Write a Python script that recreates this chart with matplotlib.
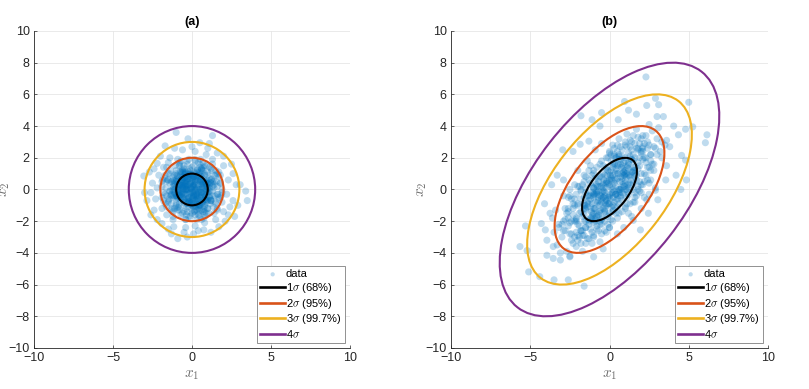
import numpy as np
import matplotlib.pyplot as plt
from matplotlib.patches import Ellipse

plt.rcParams['font.family'] = ['Liberation Sans', 'DejaVu Sans']
plt.rcParams['mathtext.fontset'] = 'cm'

# ---- data ----
# panel (a): isotropic cloud
xa = [-1.0, -0.25, 1.3, -1.7, 0.5, 3.4, 3.5, 3.05, -3.05, -2.5,
      -0.9, 0.1, 0.75, 2.7, 2.4, -2.4, -2.85, -1.9, 1.6, -2.2,
      2.6, 2.6, -1.15, 1.7,
      -2.1, -2.6, -2.3, -1.8, -1.4, -0.6, 0.2, 0.9, 1.3, 2.0,
      2.3, 2.2, 2.0, 1.5, 0.8, 0.2, -0.4, -1.2, -1.9, -2.2,
      -2.7, -2.0, -1.1, 0.0, 1.0, 2.0, 2.8, 2.9, 2.1, 1.2,
      -0.5, -1.5, -2.6, -3.0, -1.6, 1.8, 1.9, -0.9, 0.6, -1.9,
      2.5, -2.4, 1.1, -0.3, 0.4, -1.3, 2.3, -2.2, 1.6, -1.7,
      0.1, -0.3, 0.6, -0.8, 0.4, -0.5, 1.1, -1.2, 0.2, 0.9,
      -0.1, -0.9, 0.7, -0.4, 0.3, -0.6, 1.3, -1.3, 0.0, 0.5,
      -0.2, 0.8, -1.0, 1.4, -1.5, 0.2, -0.7, 1.0, -0.3, 0.4,
      -1.1, 1.2, -0.8, 0.9, -1.6, 0.1, 0.6, -0.4, 1.5, -0.9,
      0.3, -0.2, 0.7, -1.4, 1.6, -0.5, 0.0, 0.5, -1.0, 1.1,
      -0.6, 0.8, -1.3, 1.3, -0.1, 0.4, -1.7, 1.7, -0.7, 0.2,
      0.9, -1.2, 1.4, -0.3, 0.6, -0.9, 0.0, 0.3, -0.5, 1.0,
      -1.5, 1.2, -0.2, 0.5, -0.8, 0.7, -1.1, 1.5, -0.4, 0.1,
      0.8, -1.4, 0.2, -0.6, 1.1, -0.1, 0.4, -1.0, 0.9, -0.3,
      1.3, -1.6, 1.6, -1.2, 0.6, -0.7, 0.0, -0.2, 0.3, -0.4,
      0.5, -0.5, 0.2, -0.1, 0.4, -0.3, 0.1, -0.8, 0.7, -0.6,
      1.0, -1.0, 0.3, -0.2, 0.6, -1.2, 1.2, 0.0, -0.7, 0.8,
      1.8, -1.8, 0.2, -0.4, 1.9, -1.9, 1.4, -1.5, 1.7, -1.3]
ya = [3.6, 3.2, 3.4, 2.75, 2.95, -0.1, -0.7, 0.3, 0.85, 0.4,
      -3.1, -2.8, -2.55, -1.7, -1.1, -1.3, -0.7, -2.15, 2.3, 1.65,
      1.0, -0.7, -2.35, -2.35,
      0.9, -0.2, -0.6, 1.4, 2.0, 2.5, 2.4, 2.2, 1.9, 1.5,
      0.6, -0.3, -1.4, -1.9, -2.1, -2.3, -2.4, -1.9, -1.2, 0.1,
      1.1, 2.1, 2.6, 2.7, 2.6, 2.1, 0.3, -1.0, -2.0, -2.7,
      -2.7, -2.5, -1.6, -0.2, -1.6, 0.9, -0.8, 1.9, -1.9, 0.5,
      1.6, 1.3, 2.9, -3.0, -2.6, -2.8, -1.6, -1.9, -1.3, -0.3,
      0.2, 0.5, -0.2, -0.4, 0.9, -1.0, 0.3, 0.2, -0.7, -0.8,
      1.2, 0.8, 0.5, -0.3, 0.1, 0.1, -0.4, -0.9, -1.3, 1.4,
      -0.1, 1.0, 1.2, 0.9, 0.6, 0.6, -0.7, -1.2, 1.6, -1.5,
      -0.2, 1.3, 1.5, 0.0, -0.4, -0.4, 0.3, 0.8, -0.9, -1.3,
      1.1, -0.8, -0.5, 1.0, 0.2, 0.4, 0.9, -1.0, -0.6, 0.7,
      -1.5, -1.6, 0.5, -0.1, -1.7, 1.7, 0.9, -0.5, 1.1, -1.1,
      1.5, -1.4, 0.5, 0.2, 0.8, -0.1, -0.2, -0.3, 1.3, 0.9,
      -0.8, -0.7, 0.7, 0.0, 0.3, 1.2, 0.9, 1.2, -1.2, 1.5,
      -0.3, -0.1, 0.3, -0.5, -0.5, 0.4, -0.6, 0.5, 0.4, -1.4,
      1.6, 1.4, -1.2, -1.7, -1.3, 1.8, 0.0, -0.5, 0.6, 0.0,
      0.5, -0.2, -0.1, 0.1, 0.3, -0.6, 0.8, -0.9, -0.9, 0.6,
      0.1, -1.0, -0.9, 1.0, 1.0, 0.0, 0.4, -1.0, 0.3, -1.1,
      0.4, -0.7, 1.9, -1.9, -0.2, 0.2, -1.5, 1.7, 1.1, -1.2]
# dense core of panel (a)
xa_core = [0.15, -0.35, 0.55, -0.75, 0.95, -1.15, 0.25, -0.45, 0.65, -0.85,
           1.05, -0.05, 0.35, -0.55, 0.75, -0.95, 1.25, -1.25, 0.05, -0.15,
           -0.25, 0.45, -0.65, 0.85, -1.05, 0.15, -0.35, 0.55, -0.75, 0.95,
           -0.15, 0.35, -0.55, 1.15, -1.35, 0.25, -0.45, 0.65, -0.85, 0.05,
           0.6, -0.2, 0.0, 0.9, -1.1, 0.4, -0.6, 1.3, -0.9, 0.1,
           -0.3, 0.7, -0.5, 1.0, -1.2, 0.2, -0.8, 0.5, -0.1, 1.1,
           -0.7, 0.3, -1.4, 0.8, -0.4, 0.0, 1.2, -1.0, 0.6, -0.2,
           0.4, -0.6, 0.9, -0.9, 0.1, -0.3, 1.4, -1.3, 0.7, -0.5,
           0.3, -0.1, 0.8, -0.6, 0.0, 1.0, -1.0, 0.5, -0.4, 0.2,
           -0.8, 1.2, -0.2, 0.6, -1.1, 0.4, -0.5, 0.9, -0.3, 0.1,
           -0.05, 0.25, -0.45, 0.65, -0.65, 0.45, -0.25, 0.05, 0.85, -0.85,
           1.1, -1.1, 0.35, -0.35, 0.15, -0.15, 0.55, -0.55, 0.75, -0.75,
           0.12, -0.42, 0.72, -0.92, 0.32, -0.12, 0.52, -0.62, 0.92, -0.32,
           0.02, -0.72, 0.42, -0.22, 0.82, -0.52, 0.22, -1.02, 0.62, -0.02,
           1.02, -0.82, 0.12, -0.42, 0.72, -0.62, 0.32, -0.12, 0.52, -0.92,
           -0.28, 0.38, -0.58, 0.68, -0.08, 0.18, -0.78, 0.88, -0.38, 0.48,
           0.08, -0.48, 0.58, -0.68, 0.28, -0.18, 0.98, -0.88, 0.78, -0.98,
           0.18, -0.28, 0.38, -0.38, 0.48, -0.58, 0.68, -0.08, 0.08, -0.78,
           -0.62, 0.62, -0.22, 0.22, -0.82, 0.82, -0.02, 0.02, -0.42, 0.42,
           0.32, -0.32, 1.12, -1.12, 0.52, -0.52, 0.12, -0.12, 0.72, -0.72,
           -0.18, 0.58, -0.88, 0.28, -0.48, 0.98, -0.68, 0.08, -0.38, 0.88,
           0.44, -0.44, 0.64, -0.64, 0.24, -0.24, 0.84, -0.84, 0.04, -0.04]
ya_core = [0.45, -0.25, 0.85, 0.15, -0.65, 0.35, -1.05, 0.95, -0.35, 0.55,
           -0.15, -0.85, 1.25, 0.05, -1.25, -0.45, 0.65, -0.05, 0.25, -0.75,
           1.15, -0.95, 0.75, 0.35, -0.25, -1.35, 0.05, 0.55, -0.55, -0.15,
           0.95, -0.75, 0.25, 0.45, -0.35, -0.65, 1.05, 0.15, -1.15, 0.65,
           -0.4, 0.8, -0.6, 0.2, 0.0, -1.2, 1.1, 0.5, -0.2, 0.3,
           -0.9, 1.4, -0.3, -0.7, 0.6, 1.0, -0.1, -1.0, 0.7, 0.1,
           -0.5, -1.3, 0.4, 0.9, 0.2, -0.8, -0.6, 0.6, 1.2, 0.0,
           -1.1, 1.3, -0.2, 0.3, -0.4, 0.8, 0.1, -0.3, -1.4, 0.5,
           -0.6, 0.9, -1.0, -0.2, 0.5, 0.4, -0.4, -1.3, 1.1, 0.0,
           0.8, -0.7, -1.1, 1.3, 0.2, -0.2, 0.7, -0.5, 0.3, -0.9,
           0.05, -0.35, 0.65, -0.85, 0.25, 1.05, -0.55, -0.15, 0.45, -0.05,
           -0.45, 0.55, -0.95, 0.85, 0.15, -0.25, 0.35, -0.65, 0.05, 1.15,
           -0.22, 0.42, 0.12, -0.52, 0.72, -0.92, -0.32, 0.62, 0.22, 0.02,
           0.92, -0.12, -0.72, 0.32, -0.42, -0.62, 0.52, 0.12, -0.82, -0.42,
           -0.22, 0.22, 0.82, -0.02, 0.62, -0.32, -0.52, 0.42, 0.02, 0.52,
           0.68, -0.38, 0.18, -0.68, -0.18, 1.08, -0.28, -0.08, 0.38, 0.78,
           -1.08, -0.58, 0.48, 0.28, 0.88, -0.78, 0.18, 0.08, -0.28, -0.38,
           0.28, -0.88, -0.08, 0.58, -0.48, 0.78, 0.38, 0.98, -0.58, -0.18,
           0.48, 0.08, -0.68, 0.68, 0.28, -0.62, -0.98, 0.18, 0.98, -1.02,
           0.82, -0.02, -0.12, 0.42, 0.62, -0.82, -0.32, 0.32, -0.72, 0.92,
           -0.52, -0.18, -0.42, 0.02, 0.18, 0.38, 0.62, -0.48, -0.78, 0.52,
           -0.14, 0.24, 0.44, -0.24, -0.44, 0.64, -0.64, -0.34, 0.74, -0.84]
# between the 1 sigma and 2 sigma circles of panel (a)
xa_ring = [1.3, -1.3, 0.0, 0.0, 1.0, -1.0, 1.0, -1.0, 1.6, -1.6,
           0.5, -0.5, 0.5, -0.5, 1.5, -1.5, 1.5, -1.5, 1.8, -1.8,
           0.3, -0.3, 1.2, -1.2, 1.2, -1.2, 0.8, -0.8, 0.8, -0.8,
           1.7, -1.7, 1.7, -1.7, 0.2, -0.2, 0.2, -0.2, 1.4, -1.4,
           1.1, -1.1, 0.6, -0.6, 1.9, -1.9, 0.9, -0.9, 1.35, -1.35,
           0.4, -0.4, 1.55, -1.55, 0.7, -0.7, 1.25, -1.25, 1.05, -1.05,
           1.65, -1.65, 0.15, -0.15, 0.95, -0.95, 1.45, -1.45, 0.55, -0.55,
           1.85, -1.85, 0.35, -0.35, 1.15, -1.15, 0.75, -0.75, 1.6, -1.6]
ya_ring = [0.2, -0.4, 1.4, -1.5, 1.1, -0.9, -1.2, 1.0, -0.3, 0.5,
           1.6, -1.4, -1.7, 1.5, 0.9, -0.7, -0.8, 1.0, 0.4, -0.2,
           -1.9, 1.8, 0.6, -0.5, -0.7, 0.8, 1.5, -1.3, -1.4, 1.6,
           0.8, -0.9, -0.6, 0.7, 1.8, -1.7, -1.6, 1.9, 0.3, -0.1,
           1.4, -1.2, 1.3, 1.2, 0.0, -0.5, -1.5, -1.1, -1.1, 1.2,
           -1.6, -1.9, 0.5, 0.6, 1.7, -1.6, 1.2, -1.3, -1.5, 1.5,
           -0.3, 0.1, -1.4, 1.3, 0.6, 0.9, -0.4, -0.6, 1.9, 1.1,
           -0.4, 0.6, 1.2, -1.6, -0.9, -0.4, -1.8, 1.7, 1.0, -1.1]

# panel (b): correlated cloud
xb = [2.3, 2.9, 5.0, 2.35, 3.1, 0.95, 1.2, 1.7, 0.55, -0.5,
      -1.8, -1.1, -0.6, 3.4, 4.05, 4.8, 5.25, 4.35, 6.15, 6.05,
      3.6, 3.8, 4.55, 4.8, 4.85, 4.5, 4.2, 3.05, 3.55, -2.95,
      -2.3, -1.85, -1.3, -3.65, -2.9, -3.3, -4.1, -3.75, -4.3, -5.3,
      -5.65, -5.2, -5.1, -4.4, -3.5, -2.6, -1.6, -3.95, -3.55, -3.1,
      -3.95, -3.55, -4.05, -2.5, -1.0, -0.4, 1.95, 1.5, 2.45, 2.35,
      2.9,
      0.0, 0.5, -0.5, 1.0, -1.0, 1.5, -1.5, 0.3, -0.3, 2.0,
      -2.0, 0.8, -0.8, 1.2, -1.2, 2.4, -2.4, 0.1, -0.1, 1.8,
      -1.8, 2.8, -2.8, 0.6, -0.6, 1.4, -1.4, 3.0, -3.0, 0.9,
      -0.9, 2.2, -2.2, 1.7, -1.7, 0.2, -0.2, 2.6, -2.6, 1.1,
      -1.1, 0.4, -0.4, 1.9, -1.9, 3.3, -3.2, 0.7, -0.7, 1.3,
      -1.3, 2.1, -2.1, 0.0, 0.0, 1.6, -1.6, 2.7, -2.7, 0.5,
      -0.5, 1.0, -1.0, 2.3, -2.3, 0.8, -0.8, 1.5, -1.5, 3.5,
      -3.4, 0.3, -0.3, 1.2, -1.2, 2.0, -2.0, 0.6, -0.6, 1.8,
      -1.8, 2.9, -2.9, 0.1, -0.1, 1.4, -1.4, 2.5, -2.5, 0.9,
      -0.9, 1.7, -1.7, 3.1, -3.1, 0.4, -0.4, 1.0, -1.0, 2.2,
      -2.2, 0.2, -0.2, 1.6, -1.6, 0.7, -0.7, 2.6, -2.6, 1.3,
      -1.3, 0.0, 0.0, 3.6, -3.6, 1.9, -1.9, 0.5, -0.5, 2.4,
      -2.4, 1.1, -1.1, 3.0, -3.3, 0.8, -0.8, 1.5, -1.5, 2.1,
      -2.1, 0.3, -0.3, 1.2, -1.2, 2.8, -2.8, 0.6, -0.6, 1.7,
      -1.7, 0.1, -0.1, 0.9, -0.9, 2.0, -2.0, 1.4, -1.4, 0.4,
      -0.4, 3.3, -3.5, 2.5, -2.5, 1.0, -1.0, 0.2, -0.2, 1.8,
      -1.8, 0.7, -0.7, 2.3, -2.3, 1.6, -1.6, 0.5, -0.5, 1.1]
yb = [7.1, 5.75, 5.5, 5.3, 5.35, 5.55, 5.0, 4.75, 4.4, 4.85,
      4.65, 4.4, 4.0, 4.6, 4.0, 3.8, 3.95, 3.45, 3.45, 2.95,
      3.1, 2.7, 2.15, 1.85, 0.6, 0.0, 0.9, -0.65, 0.6, 2.5,
      2.4, 2.85, 3.05, 0.3, 0.6, 0.9, -0.9, -1.5, -2.15, -2.3,
      -3.6, -3.85, -5.2, -5.5, -5.7, -5.7, -6.1, -4.15, -4.35, -4.45,
      -3.2, -3.6, -2.55, -4.25, -4.25, -3.75, -2.55, -1.95, -1.5, -0.65,
      -0.05,
      0.3, 1.0, -0.6, 0.4, -1.2, 1.8, -2.0, -0.8, 0.9, 1.0,
      -1.0, 2.1, -2.3, -0.3, 0.4, 2.6, -2.8, 1.8, -1.7, 0.2,
      -0.1, 1.6, -1.9, -1.5, 1.6, 3.0, -3.1, 3.2, -3.0, 0.9,
      -0.8, -0.5, 0.3, 2.6, -2.6, 2.8, -2.7, 0.6, -0.5, 1.4,
      -1.5, 0.2, -0.1, 2.9, -3.0, 2.0, -2.2, -0.4, 0.5, 0.8,
      -0.7, 3.4, -3.6, -0.9, 1.1, -0.8, 0.9, 3.7, -3.9, 2.4,
      -2.2, -1.1, 1.0, 1.7, -1.6, 1.5, -1.6, 0.0, 0.1, 2.8,
      -1.3, 0.6, -0.4, 2.3, -2.5, -1.2, 1.2, 3.2, -3.3, 1.3,
      -1.4, 0.1, -0.4, -1.9, 2.0, -1.7, 1.8, 4.1, -4.2, -2.4,
      2.5, 3.8, -3.9, 3.9, -4.0, 1.3, -1.2, 2.0, -2.1, 0.5,
      -0.6, -0.2, 0.1, 1.0, -1.0, 0.0, -0.1, 2.2, -2.3, -0.9,
      1.2, 2.3, -2.4, 1.5, -1.8, -0.1, 0.2, -2.8, 2.9, 3.0,
      -3.2, 3.5, -3.4, 4.6, -3.5, 0.5, -0.3, 2.2, -2.4, 1.9,
      -1.8, 1.6, -1.4, 0.1, -0.2, 2.7, -2.6, -0.9, 0.8, -0.4,
      0.3, 0.8, -0.5, 1.7, -1.9, 2.3, -2.2, 1.1, -1.1, -0.3,
      0.4, 3.0, -2.7, -0.3, 0.0, 2.8, -2.9, -1.4, 1.4, 3.3,
      -3.4, 2.7, -2.6, 0.9, -0.9, 2.0, -2.0, 0.7, -0.8, -0.5]
# dense core of panel (b)
xb_core = [0.2, -0.4, 0.9, -1.1, 1.6, -1.8, 0.5, -0.7, 1.3, -1.5,
           2.1, -2.3, 0.0, -0.2, 0.7, -0.9, 1.9, -2.0, 1.1, -1.3,
           0.4, -0.6, 1.4, -1.6, 0.1, -0.3, 2.4, -2.6, 0.8, -1.0,
           1.7, -1.9, 0.3, -0.5, 1.0, -1.2, 2.2, -2.4, 0.6, -0.8,
           1.2, -1.4, 0.0, 0.6, -0.6, 1.5, -1.7, 2.0, -2.2, 0.9,
           -1.1, 0.3, -0.3, 1.8, -1.6, 2.5, -2.7, 0.7, -0.9, 1.3,
           -0.1, 0.5, -0.7, 1.1, -1.3, 1.9, -1.5, 0.2, -0.4, 1.6,
           -2.1, 2.3, 0.8, -0.8, 0.4, -0.2, 1.4, -1.0, 2.7, -2.9,
           0.6, -0.6, 1.0, -1.0, 0.0, 0.3, -0.3, 1.7, -1.7, 2.1,
           -2.1, 0.9, -0.9, 1.3, -1.3, 0.1, -0.1, 0.5, -0.5, 1.5,
           -1.5, 2.0, -2.0, 1.2, -1.2, 0.7, -0.7, 0.2, -0.2, 1.8,
           -1.8, 2.6, -2.5, 1.0, -1.0, 0.4, -0.4, 1.6, -1.6, 0.0,
           0.15, -0.25, 0.65, -0.85, 1.15, -1.35, 0.45, -0.55, 0.95, -1.05,
           0.05, -0.15, 0.35, -0.45, 0.75, -0.65, 1.25, -1.15, 0.55, -0.75,
           1.45, -1.55, 0.25, -0.35, 0.85, -0.95, 0.0, 0.6, -0.6, 1.0,
           -1.0, 0.4, -0.4, 1.3, -1.3, 0.2, -0.2, 0.8, -0.8, 1.6,
           -1.6, 0.3, -0.3, 1.1, -1.1, 0.7, -0.7, 0.1, -0.1, 1.4,
           -1.4, 0.5, -0.5, 0.9, -0.9, 1.2, -1.2, 0.0, 0.35, -0.35,
           0.65, -0.65, 1.05, -1.05, 0.15, -0.15, 1.5, -1.5, 0.45, -0.45,
           0.85, -0.85, 0.25, -0.25, 1.35, -1.35, 0.55, -0.55, 0.95, -0.95,
           0.05, -0.05, 0.75, -0.75, 1.15, -1.15, 0.4, -0.4, 0.6, -0.6,
           1.0, -1.0, 0.2, -0.2, 0.8, -0.8, 0.3, -0.3, 1.2, -1.2]
yb_core = [0.9, -0.5, 0.2, -1.9, 1.2, -0.6, -0.4, 0.7, 2.1, -2.4,
           2.4, -1.2, -0.5, 1.3, 1.6, -1.8, 0.5, -2.9, -0.1, 0.6,
           -0.3, 0.2, 2.5, -0.9, 0.7, -1.3, 1.4, -1.4, -0.7, 0.1,
           0.9, -2.3, 2.2, -1.9, 0.0, -0.4, 2.9, -2.0, 1.9, 0.3,
           1.6, -0.8, 0.6, -0.1, -2.0, 0.4, -2.9, 2.4, -3.0, 1.1,
           0.2, -1.1, -0.2, 1.7, -0.5, 1.4, -1.5, 0.8, -1.2, 2.7,
           0.4, 1.5, -1.6, 1.0, -2.2, 2.0, -1.2, -1.0, 1.0, 0.8,
           -2.0, 2.0, -0.2, -0.1, 2.0, -1.0, 1.9, -0.3, 1.6, -2.0,
           0.0, -0.9, 1.2, -0.4, -0.3, 2.1, -2.0, 0.6, -1.7, 2.6,
           -1.9, -0.3, 0.7, 0.3, -2.0, 1.2, -0.9, -1.1, 0.2, 1.4,
           -0.2, 0.3, -0.9, 0.9, -1.8, -0.5, -0.7, 0.0, 0.5, 2.5,
           -2.6, 2.2, -2.1, 1.0, -1.5, 0.6, -0.5, -0.2, -1.2, -1.5,
           0.6, -0.9, -0.2, -0.1, 1.5, -0.4, 1.2, -1.3, 0.2, -1.6,
           -0.6, 0.5, 1.0, -0.2, 0.1, -1.0, 0.4, -1.8, 1.6, 0.2,
           1.1, -1.0, -0.5, 0.6, 1.3, -0.3, 0.2, 0.0, -1.5, 1.8,
           0.1, -0.3, 0.3, 0.9, -1.9, 1.4, -0.7, 0.7, -0.2, 1.4,
           -1.6, 0.4, -1.2, 0.0, -0.9, 1.9, -0.5, -1.1, 1.2, 0.6,
           -0.4, -0.6, 0.8, 1.1, -2.0, 1.7, -0.6, -0.4, 1.6, -0.1,
           0.5, -1.4, 0.8, -0.2, -0.2, 0.9, 1.2, -1.3, 2.0, -1.8,
           0.3, 0.3, -1.3, -0.6, 1.9, -0.9, 1.0, -0.4, 0.9, -1.2,
           0.9, -0.9, 1.4, -0.8, 0.3, -1.4, -0.7, 0.1, 2.1, -0.4,
           0.6, -0.5, 0.2, 0.4, 1.0, -1.7, -0.1, -0.8, 1.3, -1.1]
# between the 1 sigma and 2 sigma ellipses of panel (b)
xb_ring = [2.5, -2.5, 2.0, -2.0, 1.0, -1.0, 0.0, 0.0, -1.0, 1.0,
           -2.0, 2.0, 2.8, -2.8, 1.5, -1.5, 0.5, -0.5, -0.5, 0.5,
           -1.5, 1.5, -2.5, 2.5, 3.0, -3.0, 2.2, -2.2, 1.8, -1.8,
           0.8, -0.8, -0.2, 0.2, -1.2, 1.2, -2.2, 2.2, 2.6, -2.6,
           1.3, -1.3, 0.3, -0.3, -0.8, 0.8, -1.8, 1.8, 2.4, -2.4,
           2.9, -2.9, 1.6, -1.6, 0.6, -0.6, -0.4, 0.4, -1.6, 1.6,
           -2.6, 2.6, 2.1, -2.1, 1.1, -1.1, 0.1, -0.1, -1.1, 1.1,
           -2.1, 2.1, 3.2, -3.2, 2.3, -2.3, 1.9, -1.9, 0.2, -0.2]
yb_ring = [2.8, -2.8, 3.2, -3.2, 3.0, -3.0, 2.4, -2.4, 1.2, -1.2,
           0.2, -0.2, 1.2, -1.2, 3.4, -3.4, 2.8, -2.8, 1.8, -1.8,
           0.8, -0.8, -0.4, 0.4, 2.2, -2.2, 2.0, -2.0, 2.6, -2.6,
           2.5, -2.5, 2.0, -2.0, 1.5, -1.5, -1.0, 1.0, 1.8, -1.8,
           3.1, -3.1, 2.6, -2.6, 1.4, -1.4, 0.0, 0.0, 0.6, -0.6,
           2.6, -2.6, 2.9, -2.9, 2.2, -2.2, 1.5, -1.5, 0.5, -0.5,
           -1.2, 1.2, 2.7, -2.7, 2.7, -2.7, 2.2, -2.2, 0.9, -0.9,
           -0.3, 0.3, 2.4, -2.4, 3.4, -3.4, 1.5, -1.5, 1.6, -1.6]

# covariance of each panel and the sigma levels
cov_a = [[1.0, 0.0], [0.0, 1.0]]
cov_b = [[3.0, 2.0], [2.0, 4.0]]
levels = [1, 2, 3, 4]
level_labels = [r'1$\sigma$ (68%)', r'2$\sigma$ (95%)', r'3$\sigma$ (99.7%)', r'4$\sigma$']
level_colors = ['#000000', '#D95319', '#EDB120', '#7E2F8E']

panels = [('(a)', xa + xa_core + xa_ring, ya + ya_core + ya_ring, cov_a),
          ('(b)', xb + xb_core + xb_ring, yb + yb_core + yb_ring, cov_b)]
axes_pos = [[0.042, 0.1054, 0.3906, 0.815], [0.5575, 0.1054, 0.3918, 0.815]]

fig = plt.figure(figsize=(8.09, 3.89), dpi=100)
for (title, xs, ys, cov), pos in zip(panels, axes_pos):
    ax = fig.add_axes(pos)
    ax.scatter(xs, ys, s=26, color='#0072BD', alpha=0.25, edgecolors='none',
               label='data', zorder=2)
    vals, vecs = np.linalg.eigh(np.array(cov))
    ang = np.degrees(np.arctan2(vecs[1, 1], vecs[0, 1]))
    for k, lab, c in zip(levels, level_labels, level_colors):
        e = Ellipse((0, 0), 2 * k * np.sqrt(vals[1]), 2 * k * np.sqrt(vals[0]),
                    angle=ang, fill=False, edgecolor=c, lw=1.5, zorder=3)
        ax.add_patch(e)
        ax.plot([], [], color=c, lw=1.9, label=lab)
    ax.set_xlim(-10, 10)
    ax.set_ylim(-10, 10)
    ax.set_xticks([-10, -5, 0, 5, 10])
    ax.set_yticks(range(-10, 11, 2))
    ax.grid(True, color='#e6e6e6', lw=0.6)
    ax.set_axisbelow(True)
    for s in ['top', 'right']:
        ax.spines[s].set_visible(False)
    for s in ['left', 'bottom']:
        ax.spines[s].set_color('#262626')
        ax.spines[s].set_linewidth(0.6)
    ax.tick_params(direction='in', length=2.5, width=0.5, labelsize=9,
                   colors='#262626', pad=3)
    ax.set_title(title, fontsize=9, fontweight='bold', pad=4)
    ax.set_xlabel('$x_1$', fontsize=11, color='#707070', labelpad=3)
    ax.set_ylabel('$x_2$', fontsize=11, color='#707070')
    ax.yaxis.set_label_coords(-0.068, 0.5)
    leg = ax.legend(loc='lower right', bbox_to_anchor=(0.985, 0.015), fontsize=8,
                    frameon=True, fancybox=False, edgecolor='#808080', framealpha=1,
                    handlelength=2.2, handletextpad=0.1, labelspacing=0.15,
                    borderpad=0.3, borderaxespad=0, markerscale=0.6)
    leg.get_frame().set_linewidth(0.6)

plt.savefig('out.png', dpi=100)
